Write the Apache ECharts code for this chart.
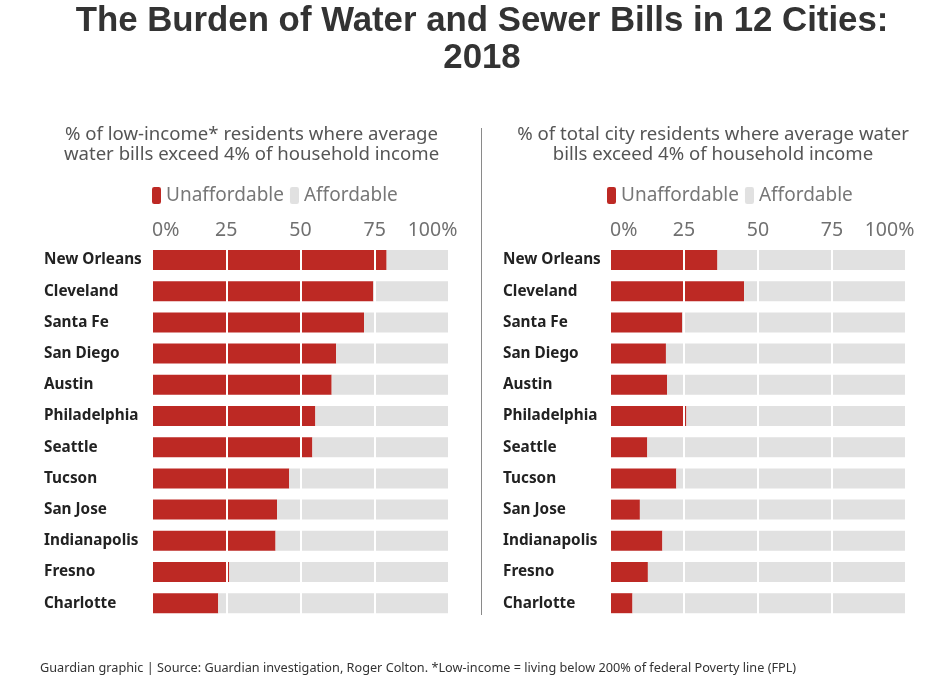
<!DOCTYPE html>
<html><head><meta charset="utf-8">
<script src="https://cdn.jsdelivr.net/npm/echarts@6/dist/echarts.min.js"></script>
<style>html,body{margin:0;padding:0;background:#fff}#c{width:934px;height:690px}</style>
</head><body><div id="c"></div>
<script>
var cities = ['New Orleans','Cleveland','Santa Fe','San Diego','Austin','Philadelphia','Seattle','Tucson','San Jose','Indianapolis','Fresno','Charlotte'];
var lowIncome = [79, 74.5, 71.4, 62, 60.5, 55, 54, 46.2, 42.1, 41.6, 26, 22.3];
var totalCity = [36.3, 45.3, 24.4, 18.9, 19.3, 25.8, 12.6, 22.4, 10.1, 17.7, 12.8, 7.6];
var tickLabels = {0:'0%', 25:'25', 50:'50', 75:'75', 100:'100%'};

var RED = '#bd2924', GRAY = '#e1e1e1';
var FONT = 'Noto Sans';
function rest(a){ return a.map(function(v){ return +(100 - v).toFixed(2); }); }

function xAx(idx){
  return {
    gridIndex: idx, type: 'value', min: 0, max: 100, interval: 25, position: 'top', z: 5,
    axisLine: {show:false}, axisTick: {show:false},
    splitLine: {show:true, lineStyle:{color:'#ffffff', width:2}},
    axisLabel: {
      margin: 4, color: '#707070', fontSize: 19.5, fontFamily: FONT,
      alignMinLabel: 'left',
      formatter: function(v){ return v === 100 ? '{r|100%}' : tickLabels[v]; },
      rich: { r: {color:'#707070', fontSize:19.5, fontFamily:FONT, padding:[0,33,0,0]} }
    }
  };
}
function yAx(idx, margin){
  return {
    gridIndex: idx, type: 'category', data: cities, inverse: true,
    axisLine: {show:false}, axisTick: {show:false}, splitLine:{show:false},
    axisLabel: {align:'left', margin: margin, color:'#222', fontSize: 15.3, fontWeight:'bold', fontFamily: FONT, padding:[6,0,0,0]}
  };
}
function legend(left){
  return {
    left: left, top: 181, itemWidth: 9, itemHeight: 17, itemGap: 6, icon: 'roundRect',
    data: ['Unaffordable','Affordable'], selectedMode: false,
    textStyle: {color:'#777', fontSize: 19, fontFamily: FONT}
  };
}
function bar(name, data, color, idx){
  return {
    name: name, type: 'bar', stack: 's' + idx, xAxisIndex: idx, yAxisIndex: idx,
    data: data, barWidth: 20, itemStyle: {color: color}, silent: true, animation: false
  };
}

var chart = echarts.init(document.getElementById('c'));
chart.setOption({
  animation: false,
  color: [RED, GRAY],
  title: [
    {text: 'The Burden of Water and Sewer Bills in 12 Cities:\n2018', left: 477, textAlign: 'center', top: -2,
     textStyle: {fontFamily:'Liberation Sans', fontSize: 34.8, fontWeight:'bold', color:'#333', lineHeight: 37}},
    {text: '% of low-income* residents where average\nwater bills exceed 4% of household income', left: 246.5, top: 120, textAlign: 'center',
     textStyle: {fontFamily: FONT, fontSize: 18.6, fontWeight:'normal', color:'#555', lineHeight: 19.5}},
    {text: '% of total city residents where average water\nbills exceed 4% of household income', left: 708, top: 120, textAlign: 'center',
     textStyle: {fontFamily: FONT, fontSize: 18.6, fontWeight:'normal', color:'#555', lineHeight: 19.5}},
    {text: 'Guardian graphic | Source: Guardian investigation, Roger Colton. *Low-income = living below 200% of federal Poverty line (FPL)',
     left: 40, top: 662, padding: 0, textStyle: {fontFamily: FONT, fontSize: 12.7, fontWeight:'normal', color:'#333'}}
  ],
  legend: [legend(147), legend(602)],
  grid: [
    {left: 152, width: 297, top: 244.4, height: 374.4, containLabel: false},
    {left: 610, width: 296, top: 244.4, height: 374.4, containLabel: false}
  ],
  xAxis: [xAx(0), xAx(1)],
  yAxis: [yAx(0, 108), yAx(1, 107)],
  series: [
    bar('Unaffordable', lowIncome, RED, 0),
    bar('Affordable', rest(lowIncome), GRAY, 0),
    bar('Unaffordable', totalCity, RED, 1),
    bar('Affordable', rest(totalCity), GRAY, 1)
  ],
  graphic: [
    {type:'line', shape:{x1:481.5, y1:128, x2:481.5, y2:615}, style:{stroke:'#8a8a8a', lineWidth:1}, silent:true}
  ]
});
</script></body></html>
